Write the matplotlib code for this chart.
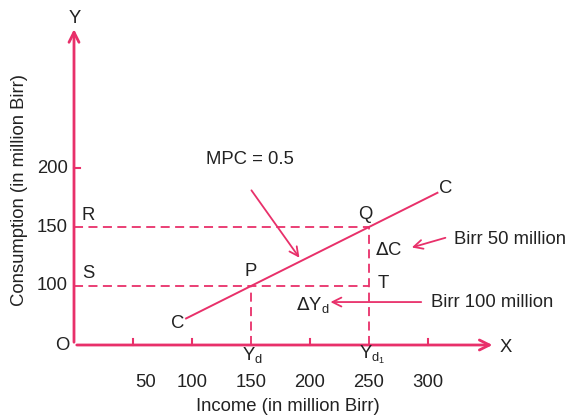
import matplotlib.pyplot as plt
import numpy as np

PINK = "#e8306a"
TEXT = "#222222"

# consumption line C-C (MPC = 0.5), y drawn on an axis whose origin sits at 50
line_x = [95, 308]
line_y = [72.5, 179]
points = {"P": (150, 100), "Q": (250, 150)}
x_ticks = [50, 100, 150, 200, 250, 300]
x_tick_labels = ["50", "100", "150", "200", "250", "300"]
y_ticks = [100, 150, 200]
y_tick_labels = ["100", "150", "200"]
Y0 = 50  # where the origin O sits on the y scale

plt.rcParams["font.family"] = ["Liberation Sans", "DejaVu Sans"]

fig = plt.figure(figsize=(5.72, 4.17), dpi=100)
ax = fig.add_axes([0, 0, 1, 1])
s = 1.18  # px per unit
ax.set_xlim(-74 / s, (572 - 74) / s)
ax.set_ylim(Y0 - (417 - 345) / s, Y0 + 345 / s)
ax.axis("off")

# axes with arrows
ax.annotate("", xy=(0, 320), xytext=(0, Y0),
            arrowprops=dict(arrowstyle="->", color=PINK, lw=2, mutation_scale=18))
ax.annotate("", xy=(357, Y0), xytext=(0, Y0),
            arrowprops=dict(arrowstyle="->", color=PINK, lw=2, mutation_scale=18))

fs = 13.3
ax.text(0.8, 327, "Y", fontsize=fs, color=TEXT, ha="center", va="center")
ax.text(366, Y0 - 2, "X", fontsize=fs, color=TEXT, ha="center", va="center")
ax.text(-10, Y0, "O", fontsize=fs, color=TEXT, ha="center", va="center")

# ticks
tl = 6 / s
for xt in x_ticks:
    if xt not in (150, 250):
        ax.plot([xt, xt], [Y0, Y0 + tl], color=PINK, lw=1.5)
for yt in y_ticks:
    if yt == 200:
        ax.plot([0, tl], [yt, yt], color=PINK, lw=1.5)

for xt, lab in zip(x_ticks, x_tick_labels):
    xpos = xt + 11 if xt == 50 else xt
    ax.text(xpos, 17.8, lab, fontsize=fs, color=TEXT, ha="center", va="center")
for yt, lab in zip(y_ticks, y_tick_labels):
    ax.text(-5, yt, lab, fontsize=fs, color=TEXT, ha="right", va="center")

ax.text(181, -2.5, "Income (in million Birr)", fontsize=fs, color=TEXT,
        ha="center", va="center")
ax.text(-45.8, 181, "Consumption (in million Birr)", fontsize=fs, color=TEXT,
        ha="center", va="center", rotation=90)

# dashed guides
px, py = points["P"]
qx, qy = points["Q"]
dash = dict(color=PINK, lw=1.3, ls=(0, (5, 3)))
ax.plot([0, qx], [qy, qy], **dash)
ax.plot([0, qx], [py, py], **dash)
ax.plot([px, px], [Y0, py], **dash)
ax.plot([qx, qx], [Y0, qy], **dash)

# consumption function
ax.plot(line_x, line_y, color=PINK, lw=1.4)

ax.text(11.9, 160, "R", fontsize=fs, color=TEXT, ha="center", va="center")
ax.text(11.9, 111, "S", fontsize=fs, color=TEXT, ha="center", va="center")
ax.text(150, 112, "P", fontsize=fs, color=TEXT, ha="center", va="center")
ax.text(246.6, 161, "Q", fontsize=fs, color=TEXT, ha="center", va="center")
ax.text(262, 102.5, "T", fontsize=fs, color=TEXT, ha="center", va="center")
ax.text(88, 68.6, "C", fontsize=fs, color=TEXT, ha="center", va="center")
ax.text(315, 183, "C", fontsize=fs, color=TEXT, ha="center", va="center")
ax.text(267, 130.5, r"$\Delta$C", fontsize=fs, color=TEXT, ha="center", va="center")
ax.text(202.5, 84, r"$\Delta$Y$_\mathregular{d}$", fontsize=fs, color=TEXT,
        ha="center", va="center")
ax.text(150.8, 41.5, r"Y$_\mathregular{d}$", fontsize=fs, color=TEXT,
        ha="center", va="center")
ax.text(252.5, 41.5, r"Y$_{\mathregular{d}_\mathregular{1}}$", fontsize=fs,
        color=TEXT, ha="center", va="center")

arrow = dict(arrowstyle="->", color=PINK, lw=1.3, mutation_scale=16)
ax.text(149, 206.8, "MPC = 0.5", fontsize=fs, color=TEXT, ha="center", va="center")
ax.annotate("", xy=(192.4, 122), xytext=(149, 183), arrowprops=arrow)
ax.text(369.5, 139, "Birr 50 million", fontsize=fs, color=TEXT,
        ha="center", va="center")
ax.annotate("", xy=(284, 132), xytext=(317, 141.5), arrowprops=arrow)
ax.text(354, 86.4, "Birr 100 million", fontsize=fs, color=TEXT,
        ha="center", va="center")
ax.annotate("", xy=(215, 86.4), xytext=(296.6, 86.4), arrowprops=arrow)

fig.savefig("out.png", dpi=100)
